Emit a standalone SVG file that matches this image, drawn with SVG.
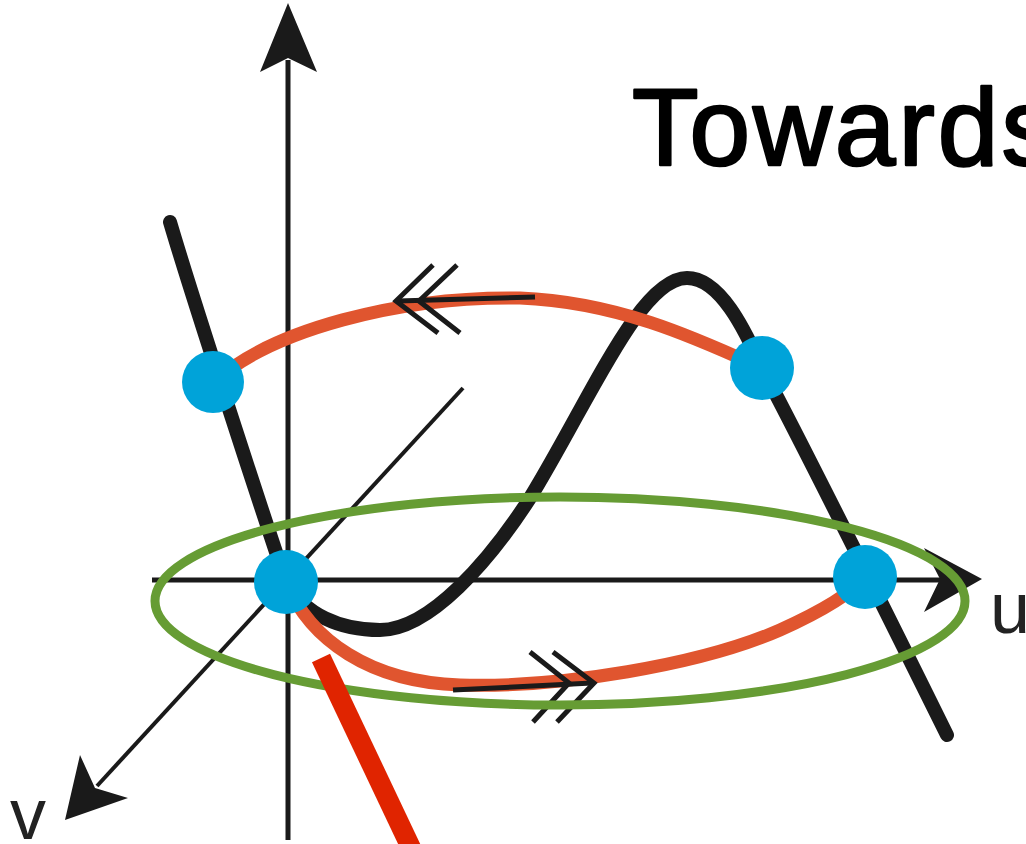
<svg xmlns="http://www.w3.org/2000/svg" width="1026" height="844" viewBox="0 0 1026 844">
<style>
.axis{stroke:#1a1a1a;fill:none;stroke-width:5}
.head{fill:#1a1a1a;stroke:none}
.chev{stroke:#1a1a1a;fill:none;stroke-width:5;stroke-linecap:butt;stroke-linejoin:miter}
.orange{stroke:#E0552F;fill:none;stroke-width:13;stroke-linecap:round}
.dot{fill:#00A3D9}
.lbl{font-family:"Liberation Sans",Arial,sans-serif;fill:#222}
</style>
<rect width="1026" height="844" fill="#ffffff"/>
<g id="axes">
  <line class="axis" x1="288" y1="840" x2="288" y2="60"/>
  <polygon class="head" points="288,3 317,72 288,58 260,72"/>
  <line class="axis" x1="152" y1="580" x2="942" y2="580"/>
  <polygon class="head" points="982,579 924,548 940,579 924,612"/>
  <line class="axis" style="stroke-width:4" x1="463" y1="388" x2="97" y2="786"/>
  <polygon class="head" points="65,820 80,755 95,788 128,798"/>
</g>
<g id="cubic">
  <path d="M170,222 C190,290 255,490 286,582 C305,615 340,630 380,630 C430,630 490,560 530,498 C590,400 640,278 687,278 C720,278 745,330 762,368 C800,440 900,640 947,735" fill="none" stroke="#1a1a1a" stroke-width="14" stroke-linecap="round"/>
</g>
<g id="cycle">
  <path class="orange" d="M213,383 C270,330 400,296 520,298 C620,302 700,340 762,368"/>
  <path class="orange" d="M286,582 C310,640 370,682 460,685 C560,688 700,665 780,630 C820,612 850,595 865,577"/>
</g>
<g id="connectors">
  <line class="chev" x1="535" y1="297" x2="398" y2="301"/>
  <polyline class="chev" points="433,265 396,301 438,333"/>
  <polyline class="chev" points="457,265 419,301 460,333"/>
  <line class="chev" x1="453" y1="690" x2="592" y2="683"/>
  <polyline class="chev" points="530,652 569,683 533,722"/>
  <polyline class="chev" points="553,652 594,683 557,722"/>
</g>
<g id="ellipse">
  <ellipse cx="560" cy="601" rx="405" ry="104" fill="none" stroke="#669C34" stroke-width="9"/>
</g>
<g id="dots">
  <circle class="dot" cx="213" cy="382" r="31"/>
  <circle class="dot" cx="762" cy="368" r="32"/>
  <circle class="dot" cx="286" cy="582" r="32"/>
  <circle class="dot" cx="865" cy="577" r="32"/>
</g>
<g id="pointer">
  <line x1="321" y1="658" x2="412" y2="850" stroke="#E02400" stroke-width="20"/>
</g>
<g id="labels">
  <text class="lbl" x="990" y="633" font-size="72">u</text>
  <text class="lbl" x="10" y="839" font-size="72">v</text>
  <text x="632" y="165" font-family="Liberation Sans,Arial,sans-serif" font-size="109" letter-spacing="3" fill="#000" stroke="#000" stroke-width="2.5" stroke-linejoin="round">Towards</text>
</g>
</svg>
